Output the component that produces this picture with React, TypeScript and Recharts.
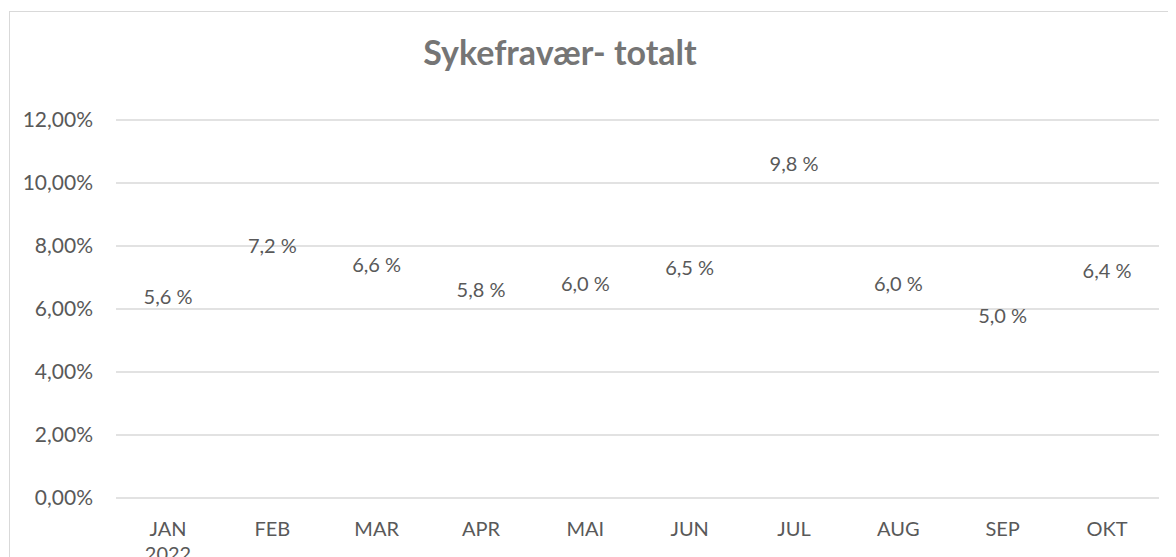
import React from "react";
import { LineChart, Line, XAxis, YAxis, CartesianGrid, LabelList } from "recharts";

const months = ["JAN", "FEB", "MAR", "APR", "MAI", "JUN", "JUL", "AUG", "SEP", "OKT"];
const sickLeave = [5.6, 7.2, 6.6, 5.8, 6.0, 6.5, 9.8, 6.0, 5.0, 6.4];
const yTicks = [0, 2, 4, 6, 8, 10, 12];
const firstYear = "2022";

const data = months.map((m, i) => ({ month: m, value: sickLeave[i] }));

const FONT = "Lato, 'Open Sans', sans-serif";
const TEXT = "#595959";

const MonthTick = (props: any) => {
  const { x, y, payload, index } = props;
  return (
    <g>
      <text x={x} y={y + 22} textAnchor="middle" dominantBaseline="central" fill={TEXT} fontSize={20} fontFamily={FONT}>
        {payload.value}
      </text>
      {index === 0 && (
        <text x={x} y={y + 47} textAnchor="middle" dominantBaseline="central" fill={TEXT} fontSize={20} fontFamily={FONT}>
          {firstYear}
        </text>
      )}
    </g>
  );
};

const ValueLabel = (props: any) => {
  const { x, y, value } = props;
  return (
    <text x={x} y={y - 26} textAnchor="middle" dominantBaseline="central" fill={TEXT} fontSize={20} fontFamily={FONT}>
      {Number(value).toFixed(1).replace(".", ",") + " %"}
    </text>
  );
};

export default function App() {
  return (
    <div style={{ position: "relative", width: 1168, height: 549, overflow: "hidden", background: "#fff" }}>
      <div
        style={{
          position: "absolute",
          left: 1,
          top: 3,
          width: 1400,
          height: 800,
          border: "1px solid #d9d9d9",
        }}
      />
      <div
        style={{
          position: "absolute",
          left: 252,
          top: 44,
          width: 600,
          textAlign: "center",
          fontFamily: FONT,
          fontWeight: 700,
          fontSize: 34,
          lineHeight: "1",
          color: "#757575",
          transform: "translateY(-50%)",
        }}
      >
        Sykefravær- totalt
      </div>
      <div style={{ position: "absolute", left: 0, top: 0 }}>
        <LineChart width={1168} height={600} data={data} margin={{ top: 112, right: 17, bottom: 60, left: 0 }}>
          <CartesianGrid vertical={false} stroke="#d9d9d9" strokeWidth={1.5} />
          <XAxis
            dataKey="month"
            axisLine={false}
            tickLine={false}
            tick={<MonthTick />}
            interval={0}
            height={50}
            padding={{ left: 52, right: 52 }}
          />
          <YAxis
            width={108}
            domain={[0, 12]}
            ticks={yTicks}
            axisLine={false}
            tickLine={false}
            tickSize={0}
            tickMargin={23}
            tick={{ fill: TEXT, fontSize: 21, fontFamily: FONT }}
            tickFormatter={(v: number) => v.toFixed(2).replace(".", ",") + "%"}
          />
          <Line dataKey="value" stroke="none" dot={false} activeDot={false} isAnimationActive={false}>
            <LabelList dataKey="value" content={<ValueLabel />} />
          </Line>
        </LineChart>
      </div>
    </div>
  );
}
